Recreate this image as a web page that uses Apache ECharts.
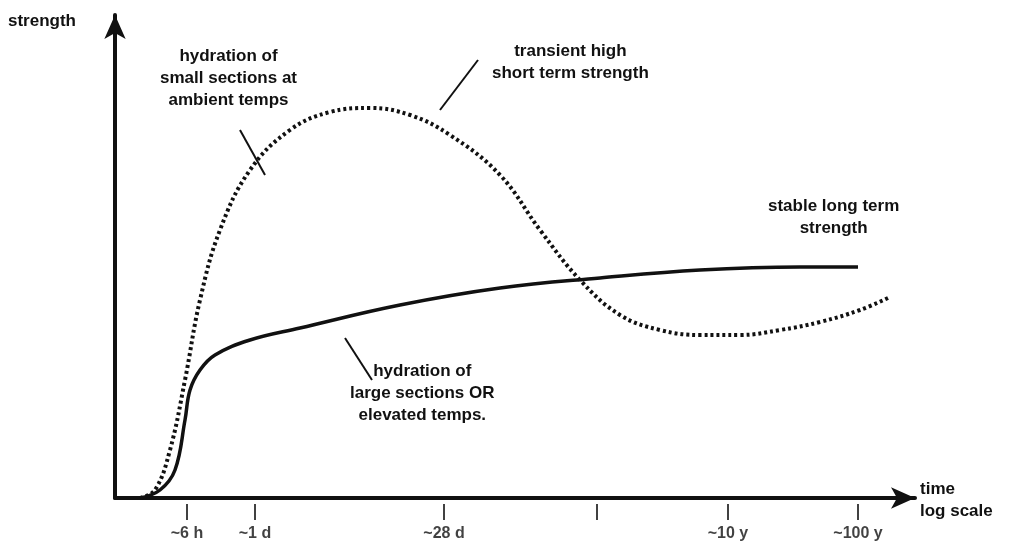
<!DOCTYPE html>
<html>
<head>
<meta charset="utf-8">
<script src="https://cdn.jsdelivr.net/npm/echarts@6/dist/echarts.min.js"></script>
</head>
<body style="margin:0;background:#fff">
<div id="main" style="width:1023px;height:551px"></div>
<script>
// x: time (log-scale position), y: strength
var tickPos = [72, 140, 329, 482, 613, 743];
var tickLabels = ['~6 h', '~1 d', '~28 d', '', '~10 y', '~100 y'];
var longTerm = [[25,0],[45,8],[60,28],[70,78],[75,108],[85,128],[100,143],[135,158],[185,170],[285,193],[385,210],[485,220],[585,228],[685,231],[743,231]];
var transient = [[25,0],[40,8],[55,48],[70,118],[85,198],[105,268],[135,328],[175,368],[215,386],[255,390],[295,383],[335,363],[385,323],[425,268],[465,218],[505,183],[545,168],[585,163],[625,163],[665,168],[705,176],[745,188],[773,200]];

var chart = echarts.init(document.getElementById('main'));
var font = 'bold 17px "Liberation Sans", Arial, sans-serif';
function txt(x, y, s, align) {
  return {type: 'text', left: x, top: y, style: {text: s, font: font, fill: '#111', textAlign: align || 'left', lineHeight: 22}};
}
function ln(x1, y1, x2, y2) {
  return {type: 'line', shape: {x1: x1, y1: y1, x2: x2, y2: y2}, style: {stroke: '#111', lineWidth: 2}};
}
chart.setOption({
  animation: false,
  grid: {left: 115, right: 108, top: 15, bottom: 53},
  xAxis: {
    type: 'value', min: 0, max: 800,
    axisLine: {lineStyle: {color: '#111', width: 4}, symbol: ['none', 'arrow'], symbolSize: [16, 24]},
    axisTick: {show: false}, axisLabel: {show: false}, splitLine: {show: false}
  },
  yAxis: {
    type: 'value', min: 0, max: 483,
    axisLine: {show: true, lineStyle: {color: '#111', width: 4}, symbol: ['none', 'arrow'], symbolSize: [16, 24]},
    axisTick: {show: false}, axisLabel: {show: false}, splitLine: {show: false}
  },
  series: [
    {type: 'line', data: longTerm, smooth: 0.4, symbol: 'none', lineStyle: {color: '#111', width: 3.5}},
    {type: 'line', data: transient, smooth: 0.4, symbol: 'none', lineStyle: {color: '#111', width: 4, type: [3, 3]}},
    {type: 'scatter', data: tickPos.map(function (p, i) { return [p, 0, tickLabels[i]]; }),
     symbol: 'rect', symbolSize: [2, 16], symbolOffset: [0, 14], itemStyle: {color: '#111'},
     label: {show: true, position: 'bottom', distance: 6, formatter: function (p) { return p.data[2]; },
       color: '#111', fontSize: 16, fontWeight: 'bold', fontFamily: 'Liberation Sans'}}
  ],
  graphic: [
    txt(8, 10, 'strength'),
    txt(920, 478, 'time\nlog scale'),
    txt(160, 45, 'hydration of\nsmall sections at\nambient temps', 'center'),
    txt(492, 40, 'transient high\nshort term strength', 'center'),
    txt(768, 195, 'stable long term\nstrength', 'center'),
    txt(350, 360, 'hydration of\nlarge sections OR\nelevated temps.', 'center'),
    ln(265, 175, 240, 130),
    ln(440, 110, 478, 60),
    ln(345, 338, 372, 380)
  ]
});
</script>
</body>
</html>
